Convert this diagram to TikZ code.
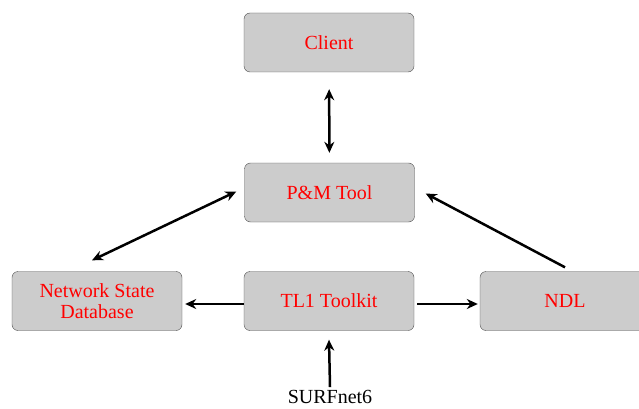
\documentclass[tikz,border=0pt]{standalone}
\usepackage{fontspec}
\setmainfont{Liberation Serif}
\usetikzlibrary{arrows.meta, positioning}

\begin{document}
\begin{tikzpicture}[
				x=1pt, y=-1pt,
				>={Stealth[length=11pt, width=10pt]},
				every node/.style={font=\fontsize{20}{21}\selectfont},
				block/.style={draw=gray!60!black, fill=gray!40, rounded corners=6pt,
					minimum width=170pt, minimum height=59pt, inner sep=0pt,
					text=red, align=center},
				link/.style={line width=2.5pt}]

			\useasboundingbox (0,0) rectangle (639,409);

			\node[block] (client) at (329,42.5) {Client};
			\node[block] (pmtool) at (329.5,192.5) {P\&M Tool};
			\node[block] (nsdb) at (97,301) {Network State\\Database};
			\node[block] (tlkit) at (329,301) {TL1 Toolkit};
			\node[block] (ndl) at (565,301) {NDL};
			\node[inner sep=2pt] (surfnet) at (330,397) {SURFnet6};

			\draw[link, <->, shorten <=17pt, shorten >=10pt] (client) -- (pmtool);

			\draw[link, <->] ([xshift=-8pt, yshift=1pt]pmtool.west) -- ([xshift=-5pt, yshift=11pt]nsdb.north);

			\draw[link, ->] ([yshift=4pt]ndl.north) -- ([xshift=11pt, yshift=-1pt]pmtool.east);

			\draw[link, ->] ([yshift=-3pt]tlkit.west) -- ([xshift=3pt, yshift=-3pt]nsdb.east);

			\draw[link, ->] ([xshift=3pt, yshift=-3pt]tlkit.east) -- ([xshift=-2pt, yshift=-3pt]ndl.west);

			\draw[link, ->] ([yshift=1pt]surfnet.north) -- ([yshift=-9pt]tlkit.south);
		\end{tikzpicture}
\end{document}
